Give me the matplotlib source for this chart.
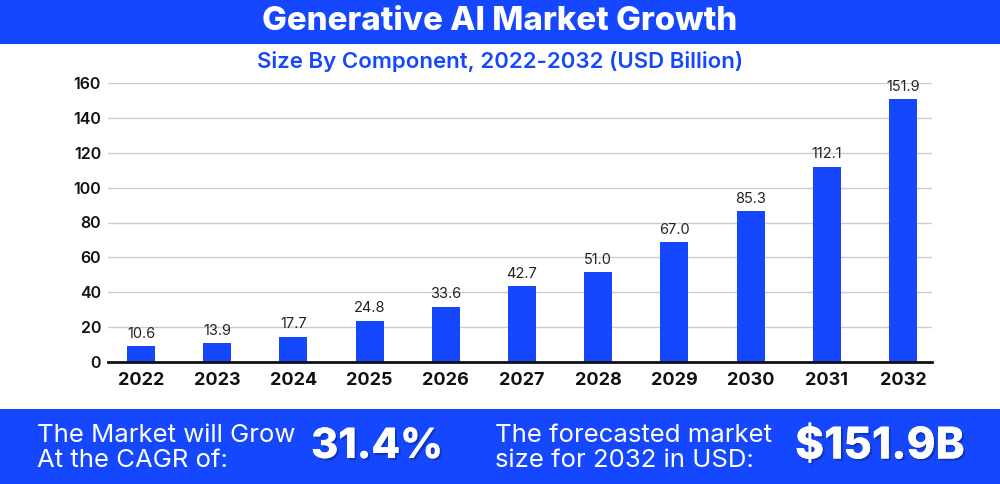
import matplotlib
matplotlib.use("Agg")
import matplotlib.pyplot as plt
from matplotlib.patches import Rectangle
import matplotlib.patheffects as pe

years = ["2022", "2023", "2024", "2025", "2026", "2027", "2028", "2029", "2030", "2031", "2032"]
bar_heights = [9.2, 11.0, 14.5, 23.7, 31.7, 43.5, 51.6, 68.8, 86.5, 112.0, 150.8]
bar_labels = ["10.6", "13.9", "17.7", "24.8", "33.6", "42.7", "51.0", "67.0", "85.3", "112.1", "151.9"]
y_ticks = [0, 20, 40, 60, 80, 100, 120, 140, 160]

title = "Generative AI Market Growth"
subtitle = "Size By Component, 2022-2032 (USD Billion)"
cagr_text = "The Market will Grow\nAt the CAGR of:"
cagr_value = "31.4%"
forecast_text = "The forecasted market\nsize for 2032 in USD:"
forecast_value = "$151.9B"

BLUE = "#1447fe"
FONT = "Inter"

fig = plt.figure(figsize=(10, 4.84), dpi=100)
fig.patch.set_facecolor("white")

# top banner
fig.add_artist(Rectangle((0, 1 - 44 / 484), 1, 44 / 484, transform=fig.transFigure,
                         facecolor=BLUE, edgecolor="none", zorder=0))
# bottom banner
fig.add_artist(Rectangle((0, 0), 1, 75 / 484, transform=fig.transFigure,
                         facecolor=BLUE, edgecolor="none", zorder=0))

fig.text(0.5, 1 - 22 / 484, title, ha="center", va="center", color="white",
         fontsize=23.8, fontweight="heavy", family=FONT)
fig.text(0.5, 1 - 62 / 484, subtitle, ha="center", va="center", color=BLUE,
         fontsize=16, fontweight="semibold", family=FONT)

ax = fig.add_axes([0.108, 1 - 362 / 484, 0.824, (362 - 83) / 484])
x = range(len(years))
ax.bar(x, bar_heights, width=0.367, color=BLUE, zorder=3)
for xi, h, lab in zip(x, bar_heights, bar_labels):
    ax.text(xi, h + 3.0, lab, ha="center", va="bottom", fontsize=10.5,
            color="#222222", family=FONT)
ax.set_ylim(0, 160)
ax.set_xlim(-0.433, 10.38)
ax.set_yticks(y_ticks)
ax.set_yticklabels([str(t) for t in y_ticks], fontsize=11.5, fontweight="semibold",
                   family=FONT, color="#111111")
ax.set_xticks(list(x))
ax.set_xticklabels(years, fontsize=13, fontweight="bold", family=FONT, color="#111111")
ax.tick_params(axis="both", length=0)
ax.tick_params(axis="y", pad=5)
ax.tick_params(axis="x", pad=7)
ax.grid(axis="y", color="#cccccc", linewidth=1, zorder=0)
for s in ["top", "right", "left"]:
    ax.spines[s].set_visible(False)
ax.spines["bottom"].set_color("#111111")
ax.spines["bottom"].set_linewidth(2)
ax.spines["bottom"].set_zorder(4)

shadow = [pe.withSimplePatchShadow(offset=(1.5, -1.5), shadow_rgbFace="#0a2a99", alpha=0.6), pe.Normal()]

fig.text(37 / 1000, 1 - 448 / 484, cagr_text, ha="left", va="center", color="white",
         fontsize=18.5, family=FONT, linespacing=1.1)
fig.text(377 / 1000, 1 - 447 / 484, cagr_value, ha="center", va="center", color="white",
         fontsize=30, fontweight="heavy", family=FONT, path_effects=shadow)
fig.text(495 / 1000, 1 - 448 / 484, forecast_text, ha="left", va="center", color="white",
         fontsize=18.5, family=FONT, linespacing=1.1)
fig.text(880 / 1000, 1 - 447 / 484, forecast_value, ha="center", va="center", color="white",
         fontsize=31.5, fontweight="heavy", family=FONT, path_effects=shadow)

fig.savefig("out.png", dpi=100, facecolor="white")
